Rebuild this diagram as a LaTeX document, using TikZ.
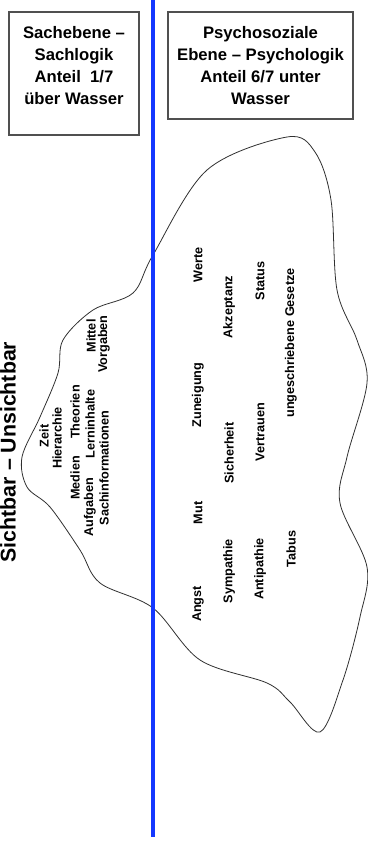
\documentclass[tikz,border=0pt]{standalone}
\usepackage{fontspec}
\setmainfont{Liberation Sans}
\usetikzlibrary{positioning}
\definecolor{wsBlue}{HTML}{1438FF}
\definecolor{wsGray}{HTML}{505050}
\definecolor{wsLine}{HTML}{303030}

\begin{document}
\begin{tikzpicture}[
  x=0.75pt, y=-0.75pt,
  infobox/.style={draw=wsGray, line width=0.8pt, inner sep=0pt},
  boxtext/.style={align=center, inner sep=0pt,
                  font=\fontsize{12.5}{16.5}\selectfont\bfseries},
  title/.style={rotate=90, inner sep=0pt, font=\fontsize{16}{19}\selectfont\bfseries},
  word/.style={rotate=90, inner sep=0pt, font=\fontsize{9.5}{11}\selectfont\bfseries},
  berg/.style={draw=wsLine, line width=0.6pt},
  water/.style={draw=wsBlue, line width=3pt}
]
  \useasboundingbox (0,0) rectangle (368,847);

  % Boxes
  \node[infobox, minimum width=97.5pt, minimum height=92.25pt] (sach) at (74,73.5) {};
  \node[infobox, minimum width=138.75pt, minimum height=80.25pt] (psych) at (260.5,65.5) {};
  \node[boxtext, below=11pt of sach.north] (sachtxt)
    {Sachebene --\\Sachlogik\\Anteil\ \ 1/7\\über Wasser};
  \node[boxtext, below=11pt of psych.north] (psychtxt)
    {Psychosoziale\\Ebene -- Psychologik\\Anteil 6/7 unter\\Wasser};

  % Iceberg
  \draw[berg] plot[smooth cycle, tension=0.55] coordinates {
    (153,255) (207,170) (287,137) (315,152) (331,200) (337,290) (357,340)
    (367,383) (347,457) (340,503) (367,567) (360,617) (343,680) (320,732)
    (290,702) (267,683) (200,660) (153,608) (100,583) (80,550) (50,507)
    (27,487) (22,457) (40,417) (58,373) (63,340) (93,310) (133,293)};

  % Water line
  \coordinate (wtop) at (153,0);
  \coordinate (wbot) at (153,837);
  \draw[water] (wtop) -- (wbot);

  \node[title] (sicht) at (8,452) {Sichtbar -- Unsichtbar};

  % Above water
  \node[word] (zeit) at (44,436) {Zeit};
  \node[word] (hier) at (57,438) {Hierarchie};
  \node[word] (medien) at (75,478) {Medien};
  \node[word] (theo) at (75,412) {Theorien};
  \node[word] (aufg) at (90,507) {Aufgaben};
  \node[word] (lern) at (90,424) {Lerninhalte};
  \node[word] (mittel) at (91,336) {Mittel};
  \node[word] (sachinf) at (104,468) {Sachinformationen};
  \node[word] (vorg) at (104,344) {Vorgaben};

  % Below water
  \node[word] (werte) at (198,265) {Werte};
  \node[word] (zun) at (198,395) {Zuneigung};
  \node[word] (mut) at (198,513) {Mut};
  \node[word] (angst) at (198,604) {Angst};
  \node[word] (akz) at (229,307) {Akzeptanz};
  \node[word] (sich) at (229,453) {Sicherheit};
  \node[word] (sym) at (229,571) {Sympathie};
  \node[word] (status) at (260,281) {Status};
  \node[word] (vertr) at (260,432) {Vertrauen};
  \node[word] (anti) at (260,569) {Antipathie};
  \node[word] (unges) at (291,343) {ungeschriebene Gesetze};
  \node[word] (tabus) at (291,549) {Tabus};
\end{tikzpicture}
\end{document}
